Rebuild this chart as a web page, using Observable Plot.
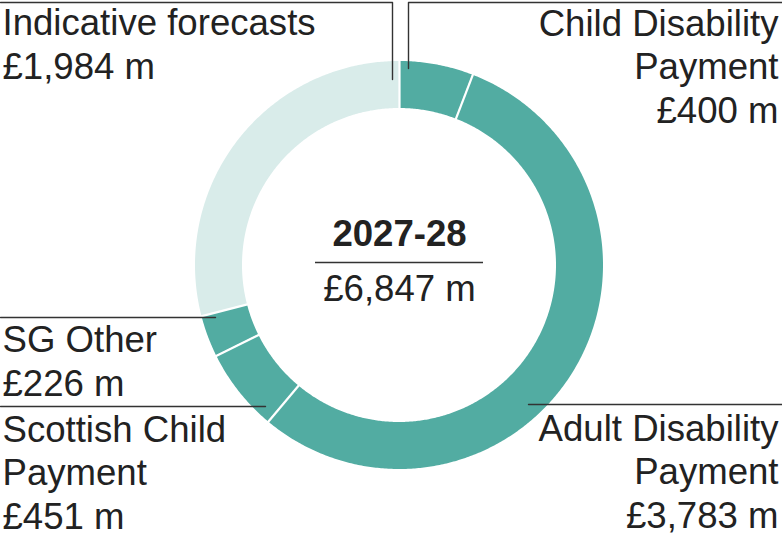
<!DOCTYPE html>
<html>
<head>
<meta charset="utf-8">
<script src="https://cdn.jsdelivr.net/npm/d3@7"></script>
<script src="https://cdn.jsdelivr.net/npm/@observablehq/plot@0.6"></script>
<style>
  html, body { margin: 0; padding: 0; background: #fff; }
  #chart svg { display: block; }
</style>
</head>
<body>
<div id="chart"></div>
<script>
// ---- Data ----
const categories = ["Child Disability Payment", "Adult Disability Payment", "Scottish Child Payment", "SG Other", "Indicative forecasts"];
const values = [400, 3783, 451, 226, 1984];
const valueLabels = ["£400 m", "£3,783 m", "£451 m", "£226 m", "£1,984 m"];
const labelLines = [["Child Disability", "Payment"], ["Adult Disability", "Payment"], ["Scottish Child", "Payment"], ["SG Other"], ["Indicative forecasts"]];
const centerTitle = "2027-28";
const centerTotal = "£6,847 m";

// ---- Layout (annotation placement, not data) ----
const W = 782, H = 535;
const cx = 399, cy = 265, rOuter = 204, rInner = 157;
const teal = "#52aca2", light = "#d9ecea", ink = "#222";
const fillFor = name => name === "Indicative forecasts" ? light : teal;
const labelLayout = {
  "Child Disability Payment": {x: 778, y: 122, anchor: "end"},
  "Adult Disability Payment": {x: 778, y: 527, anchor: "end"},
  "Scottish Child Payment": {x: 2, y: 528, anchor: "start"},
  "SG Other": {x: 2, y: 395, anchor: "start"},
  "Indicative forecasts": {x: 2, y: 78, anchor: "start"}
};
const leaderLayout = {
  "Indicative forecasts": [[0, 2], [392, 2], [392, 79]],
  "Child Disability Payment": [[408, 68], [408, 2], [782, 2]],
  "SG Other": [[0, 317], [215, 317]],
  "Scottish Child Payment": [[0, 406], [265, 406]],
  "Adult Disability Payment": [[528, 404], [782, 404]]
};

// ---- Geometry from data ----
const slices = d3.pie().sort(null).value(d => d.value)(
  categories.map((name, i) => ({name, value: values[i]}))
);
const ringPts = [];
for (const s of slices) {
  const n = Math.max(2, Math.ceil((s.endAngle - s.startAngle) / (Math.PI / 360)) + 1);
  for (let k = 0; k < n; ++k) {
    const a = s.startAngle + (s.endAngle - s.startAngle) * k / (n - 1);
    ringPts.push({
      name: s.data.name,
      xo: cx + rOuter * Math.sin(a), yo: cy - rOuter * Math.cos(a),
      xi: cx + rInner * Math.sin(a), yi: cy - rInner * Math.cos(a)
    });
  }
}
const separators = slices.map(s => ({
  x1: cx + (rInner - 1) * Math.sin(s.startAngle), y1: cy - (rInner - 1) * Math.cos(s.startAngle),
  x2: cx + (rOuter + 1) * Math.sin(s.startAngle), y2: cy - (rOuter + 1) * Math.cos(s.startAngle)
}));
const labels = categories.map((name, i) => ({
  name,
  text: [...labelLines[i], valueLabels[i]].join("\n"),
  ...labelLayout[name]
}));
const leaders = categories.flatMap(name => leaderLayout[name].map(([x, y]) => ({name, x, y})));

const fontSize = 36.6;
const lh = 43.5 / fontSize;

const chart = Plot.plot({
  width: W, height: H,
  margin: 0,
  x: {domain: [0, W], range: [0, W], axis: null},
  y: {domain: [0, H], range: [0, H], axis: null},
  style: {fontFamily: "'Liberation Sans', Arial, Helvetica, sans-serif", background: "#fff"},
  marks: [
    Plot.area(ringPts, {x1: "xo", y1: "yo", x2: "xi", y2: "yi", z: "name", fill: d => fillFor(d.name)}),
    Plot.link(separators, {x1: "x1", y1: "y1", x2: "x2", y2: "y2", stroke: "#fff", strokeWidth: 2.2}),
    Plot.line(leaders, {x: "x", y: "y", z: "name", stroke: "#333", strokeWidth: 1.4}),
    Plot.text(labels.filter(d => d.anchor === "start"), {x: "x", y: "y", text: "text", textAnchor: "start", lineAnchor: "bottom", lineHeight: lh, fontSize, fill: ink}),
    Plot.text(labels.filter(d => d.anchor === "end"), {x: "x", y: "y", text: "text", textAnchor: "end", lineAnchor: "bottom", lineHeight: lh, fontSize, fill: ink}),
    Plot.text([centerTitle], {x: cx, y: 245, text: d => d, textAnchor: "middle", lineAnchor: "bottom", fontSize, fontWeight: "bold", fill: ink}),
    Plot.ruleY([262], {x1: 315, x2: 483, stroke: "#333", strokeWidth: 1.4}),
    Plot.text([centerTotal], {x: cx, y: 300, text: d => d, textAnchor: "middle", lineAnchor: "bottom", fontSize, fill: ink})
  ]
});
document.getElementById("chart").append(chart);
</script>
</body>
</html>
